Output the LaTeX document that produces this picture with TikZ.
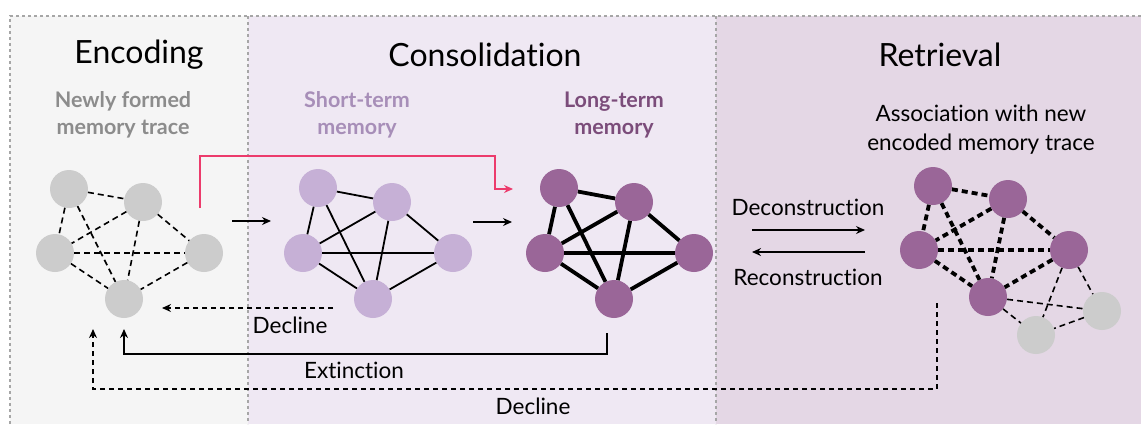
\documentclass[tikz,border=0pt]{standalone}
\usepackage{fontspec}
\setmainfont{Lato}[Ligatures=NoCommon]
\usetikzlibrary{arrows.meta}
\definecolor{encbg}{HTML}{F5F5F5}
\definecolor{conbg}{HTML}{EFE8F3}
\definecolor{retbg}{HTML}{E4D7E5}
\definecolor{grayn}{HTML}{CCCCCC}
\definecolor{shortn}{HTML}{C6B0D6}
\definecolor{longn}{HTML}{9A6698}
\definecolor{graytxt}{HTML}{8C8C8C}
\definecolor{shorttxt}{HTML}{A78EB8}
\definecolor{longtxt}{HTML}{7B4C7A}
\definecolor{pinkline}{HTML}{EC3B6C}
\tikzset{
  mem/.style={circle,minimum size=38pt,inner sep=0pt},
  title/.style={font=\fontsize{32}{34}\selectfont},
  subtitle/.style={font=\fontsize{21.5}{27}\selectfont\bfseries,align=center},
  label/.style={font=\fontsize{22.5}{29}\selectfont,align=center},
  sep/.style={draw=gray!70,line width=1.2pt,dash pattern=on 3pt off 3pt},
  weak/.style={line width=1.6pt,dash pattern=on 6pt off 4pt},
  mid/.style={line width=1.8pt},
  strong/.style={line width=3.8pt},
  loose/.style={line width=3.8pt,dash pattern=on 6pt off 4pt},
  arr/.style={line width=1.4pt,-{Stealth[length=9pt,width=8pt]}},
}
\begin{document}
\begin{tikzpicture}[x=1pt,y=-1pt]
  \useasboundingbox (0,0) rectangle (1141,424);
  % panels
  \fill[encbg] (10,16) rectangle (248,424);
  \fill[conbg] (248,16) rectangle (716,424);
  \fill[retbg] (716,16) rectangle (1141,424);
  \draw[sep] (10,424) -- (10,16) -- (1141,16);
  \draw[sep] (248,16) -- (248,424);
  \draw[sep] (716,16) -- (716,424);
  % titles
  \node[title] (tenc) at (139,55) {Encoding};
  \node[title] (tcon) at (485,55) {Consolidation};
  \node[title] (tret) at (940,55) {Retrieval};
  \node[subtitle,text=graytxt] (senc) at (123,115) {Newly formed\\memory trace};
  \node[subtitle,text=shorttxt] (sshort) at (357,115) {Short-term\\memory};
  \node[subtitle,text=longtxt] (slong) at (614,115) {Long-term\\memory};
  \node[label] (sret) at (981,130) {Association with new\\encoded memory trace};
  % newly formed trace
  \node[mem,fill=grayn] (enA) at (69,189) {};
  \node[mem,fill=grayn] (enB) at (143,202) {};
  \node[mem,fill=grayn] (enC) at (55,253) {};
  \node[mem,fill=grayn] (enD) at (204,253) {};
  \node[mem,fill=grayn] (enE) at (124,299) {};
  % short-term memory
  \node[mem,fill=shortn] (stA) at (318,188) {};
  \node[mem,fill=shortn] (stB) at (392,202) {};
  \node[mem,fill=shortn] (stC) at (303,253) {};
  \node[mem,fill=shortn] (stD) at (453,253) {};
  \node[mem,fill=shortn] (stE) at (373,299) {};
  % long-term memory
  \node[mem,fill=longn] (ltA) at (559,188) {};
  \node[mem,fill=longn] (ltB) at (634,202) {};
  \node[mem,fill=longn] (ltC) at (545,253) {};
  \node[mem,fill=longn] (ltD) at (694,253) {};
  \node[mem,fill=longn] (ltE) at (614,299) {};
  % retrieval
  \node[mem,fill=longn] (reA) at (933,186) {};
  \node[mem,fill=longn] (reB) at (1008,199) {};
  \node[mem,fill=longn] (reC) at (919,250) {};
  \node[mem,fill=longn] (reD) at (1069,250) {};
  \node[mem,fill=longn] (reE) at (988,297) {};
  \node[mem,fill=grayn] (reF) at (1102,311) {};
  \node[mem,fill=grayn] (reG) at (1036,335) {};
  % links
  \foreach \u/\v in {A/B,A/C,A/E,B/C,B/E,B/D,C/D,C/E,D/E}{
    \draw[weak] (en\u) -- (en\v);
    \draw[mid] (st\u) -- (st\v);
    \draw[strong] (lt\u) -- (lt\v);
    \draw[loose] (re\u) -- (re\v);
  }
  \foreach \u/\v in {E/F,E/G,D/F,D/G,F/G}
    \draw[weak] (re\u) -- (re\v);
  % flow arrows
  \coordinate (p1) at (232,221);
  \coordinate (p2) at (271,221);
  \draw[arr] (p1) -- (p2);
  \coordinate (p3) at (473,222);
  \coordinate (p4) at (512,222);
  \draw[arr] (p3) -- (p4);
  \coordinate (r1) at (200,208);
  \coordinate (r2) at (495,156);
  \coordinate (r3) at (513,189);
  \draw[arr,pinkline,line width=1.2pt] (r1) |- (r2) |- (r3);
  \coordinate (d1) at (752,230);
  \coordinate (d2) at (865,230);
  \draw[arr] (d1) -- (d2);
  \draw[arr] (d2 |- 0,252) -- (d1 |- 0,252);
  \node[label] (ldec) at (808,207) {Deconstruction};
  \node[label] (lrec) at (808,277) {Reconstruction};
  % decay paths
  \coordinate (c1) at (333,308);
  \coordinate (c2) at (162,308);
  \draw[arr,dash pattern=on 5pt off 4pt] (c1) -- (c2);
  \node[label] (ldecl) at (290,325) {Decline};
  \coordinate (x1) at (607,333);
  \coordinate (x2) at (124,329);
  \draw[arr] (x1) |- (124,354) -- (x2);
  \node[label] (lext) at (354,370) {Extinction};
  \coordinate (y1) at (937,303);
  \coordinate (y2) at (93,329);
  \draw[arr,dash pattern=on 5pt off 4pt] (y1) |- (93,389) -- (y2);
  \node[label] (ldecl2) at (533,406) {Decline};
\end{tikzpicture}
\end{document}
